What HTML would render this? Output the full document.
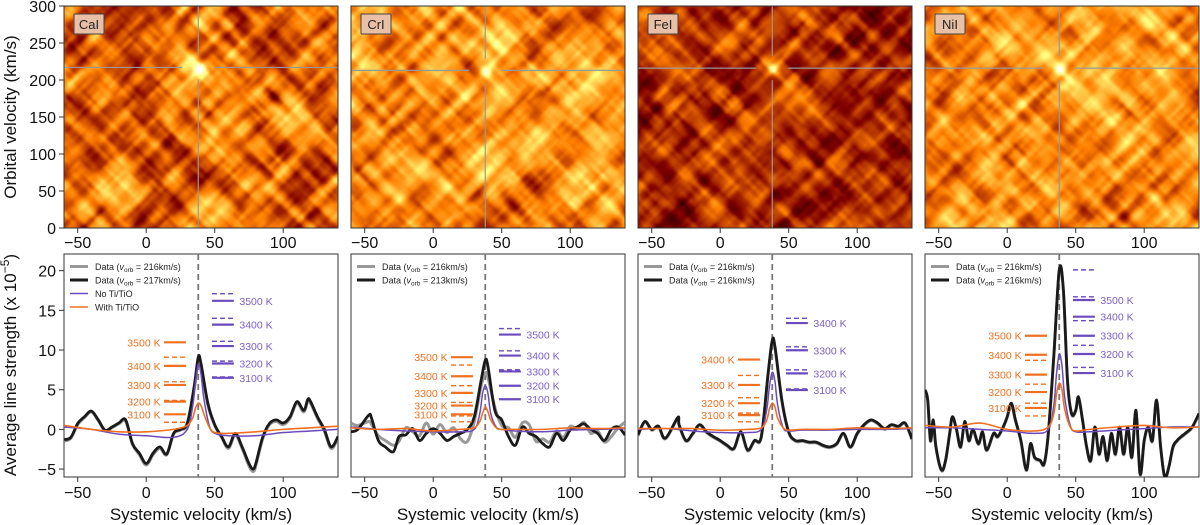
<!DOCTYPE html>
<html><head><meta charset="utf-8"><style>
body{margin:0;background:#fff;width:1200px;height:525px;overflow:hidden;position:relative;font-family:"Liberation Sans",sans-serif}
canvas{position:absolute;image-rendering:auto}
svg{position:absolute;left:0;top:0}
</style></head><body>
<canvas id="h0"></canvas>
<canvas id="h1"></canvas>
<canvas id="h2"></canvas>
<canvas id="h3"></canvas>
<svg id="fig" width="1200" height="525"></svg>
<script>
// ---- data ----
const species = ["CaI","CrI","FeI","NiI"];
const legendBlack = ["217","213","216","216"];
const xTicks = [-50,0,50,100];
const yTicksTop = [0,50,100,150,200,250,300];
const yTicksBot = [-5,0,5,10,15,20];
const peakV = 38, peakOrb = [217,213,216,216];

const p1x = [-60,-55,-50,-45,-40,-35,-30,-25,-20,-15,-10,-5,0,5,10,15,20,25,30,35,38,40,45,50,55,60,65,70,75,78,80,85,90,95,100,105,110,115,118,120,125,130,135,140];
const p1black = [-1.3,-1.0,0.75,1.6,2.3,1.2,-0.1,0.3,0.8,1.2,-1.8,-3.0,-4.3,-3.0,-2.2,-3.1,-0.5,0,0.8,5.4,9.1,8.3,3.3,0.6,-0.9,-2.2,-0.5,-2.2,-4.3,-5,-4.3,-1,0.75,1.2,0.8,1.6,3.5,2.4,3.8,3.5,1.6,0,-2.2,-0.9];
const p1grey = [-1.5,-1.1,0.6,1.5,2.2,1.1,-0.2,0.2,0.7,1.0,-1.9,-3.2,-4.5,-3.2,-2.4,-3.2,-0.6,-0.1,0.6,5.0,8.7,8.0,3.1,0.5,-1.0,-2.4,-0.7,-2.4,-4.6,-5.3,-4.6,-1.2,0.6,1.0,0.6,1.4,3.3,2.2,3.6,3.3,1.4,-0.2,-2.4,-1.1];
const p2x = [-60,-55,-47,-45,-40,-35,-29,-25,-20,-15,-10,-5,0,5,10,15,20,25,30,35,38,40,45,50,55,60,65,70,75,80,85,90,95,100,105,110,115,120,125,130,135,140];
const p2black = [-0.3,0,1.8,1.4,-1.4,-2.2,-2.8,-0.9,-0.7,0.1,-1.4,-0.5,0.1,-0.5,-1.4,-0.9,-0.5,0,1.6,6.2,8.7,7.9,2.4,1.2,-0.9,-2,0.3,-0.5,-0.9,-1.8,-2.2,-0.5,-1.4,-0.1,0.3,0.7,0,-0.5,-1.4,0,0.3,-0.7];
const p2grey = [0.8,0.5,1.0,0.6,-0.8,-1.4,-2.0,-1.5,0.2,-0.3,-0.8,0.8,-0.6,0.6,-0.4,0.2,-1.2,-1.5,1.0,5.5,7.1,6.5,2.8,0.5,0.2,-1.0,0.8,0.6,-1.5,-1.2,-1.6,-0.2,-1.0,0.4,0.0,0.9,-0.5,-0.2,-1.6,-0.9,0.2,0.9];
const p3x = [-60,-55,-50,-45,-40,-31,-30,-25,-20,-15,-10,-5,0,5,10,15,20,25,30,35,38,40,45,50,55,60,65,70,75,80,85,90,95,100,105,110,115,120,125,130,135,140];
const p3black = [-0.7,1,0,0.4,-1.1,1.5,0.6,-1.4,-0.5,0.6,-0.3,-0.9,-1.4,-2,-2.4,-0.3,-2.6,-1.4,-0.9,7.1,11.2,10.4,3.7,-0.3,-1.4,-1.4,-1.6,-1.6,-2,-2.2,-1.8,-0.5,-2.2,-0.5,0.6,1.2,0.8,0.1,0.6,0.4,0.8,-1.2];
const p3grey = p3black.map(v=>v-0.1);
const p4x = [-60,-58,-56,-54,-52,-48,-45,-42,-40,-37,-34,-31,-28,-25,-21,-18,-15,-10,-7,-3,0,3,6,10,14,17,20,24,27,30,34,38,41,44,47,50,52,55,58,61,64,67,70,73,76,79,82,85,88,91,94,97,100,103,106,109,112,115,118,121,124,127,130,135,140];
const p4black = [5,3.7,-1.4,1.2,-2.2,-5.1,-3.9,-0.5,1.6,0,-2.2,1,-1.4,0,-1.8,-0.3,-2.6,-0.5,-0.9,0.3,1.6,3.3,1.2,-1.4,-5.1,-1.8,-3.5,-3.9,-4.3,-0.5,9.2,20.1,17.6,6.2,2,2.4,4.1,1.2,-2.2,-3.9,0.3,-3.1,-0.9,-3.9,-0.5,-3.1,0.3,-3.1,0.3,-3.5,2.4,-5.6,-1.4,0.3,-1.4,3.7,-2.2,-6,-4.7,-2.2,-1.4,-0.9,-0.5,0.3,2];
const p4grey = p4black.map(v=>v-0.1);
const mx = [-60,-40,-20,0,20,30,34,36,38,40,42,46,50,60,80,100,120,140];
const purple = [
 [0.3,0,-0.6,-0.8,-1,0,3,6,8.2,7,4,0.5,-0.5,-0.8,-0.8,-0.4,-0.2,0],
 [0.3,0,-0.2,-0.3,-0.3,0,2,4.5,5.5,4.5,2,0.3,0,-0.2,-0.3,-0.1,0,0.1],
 [0,0.1,-0.2,-0.4,-0.4,0,2.5,5.5,7.2,6,3,0.2,-0.2,-0.1,-0.1,0,0,0.1],
 [0.2,0.2,0,-0.2,-0.5,0,3,7,9.5,8,4,0.5,-0.3,-0.3,-0.1,0.1,0.3,0.3]];
const orange = [
 [0.5,0,-0.3,-0.3,0,0.5,1.5,2.7,3.3,3,2,0.3,-0.4,-0.5,-0.3,0,0.2,0.4],
 [0.2,0,0.1,-0.2,0,0.2,1,2,2.8,2.2,1.2,0.2,0,0,0,0.2,0.1,0.2],
 [0.1,0.1,0.1,-0.1,0,0.2,1.2,2.6,3.3,2.8,1.4,0.2,-0.1,0,0,0.2,0.1,0.2],
 [0.5,0.3,0.8,0,-0.2,0.3,2,4.5,5.8,5,2.5,0.3,-0.2,0,0.3,0.5,0.2,0.3]];
const orangeTemps = [["3500 K","3400 K","3300 K","3200 K","3100 K"],["3500 K","3400 K","3300 K","3200 K","3100 K"],["3400 K","3300 K","3200 K","3100 K"],["3500 K","3400 K","3300 K","3200 K","3100 K"]];
const orangeSolid = [[10.97,8.0,5.6,3.5,1.9],[9.1,6.7,4.6,3.0,1.9],[8.8,5.6,3.3,1.8],[11.8,9.4,6.9,4.7,2.7]];
const orangeDash = [[9.1,6.0,3.65,0.9],[8.1,5.5,3.4,1.7,0.95],[6.8,4.0,2.05,0.95],[11.8,8.7,5.7,3.3,1.7]];
const purpleTemps = [["3500 K","3400 K","3300 K","3200 K","3100 K"],["3500 K","3400 K","3300 K","3200 K","3100 K"],["3400 K","3300 K","3200 K","3100 K"],["3500 K","3400 K","3300 K","3200 K","3100 K"]];
const purpleSolid = [[16.2,13.2,10.5,8.3,6.5],[11.95,9.3,7.3,5.5,3.8],[13.4,9.97,7.06,4.96],[16.3,14.2,11.8,9.5,7.1]];
const purpleDash = [[17.1,14.0,11.1,8.6,6.6],[12.7,9.9,7.5,5.5,3.8],[14.0,10.4,7.5,5.1],[20.1,16.7,13.7,10.6,7.8]];
const dataX = [p1x,p2x,p3x,p4x], dataBlack=[p1black,p2black,p3black,p4black], dataGrey=[p1grey,p2grey,p3grey,p4grey];

// ---- layout ----
const L=[64,351,638,925], W=274, TT=6, TB=228, BT=254, BB=477;
const OR="#f07020", PU="#6a4bbd";
const NS="http://www.w3.org/2000/svg", svg=document.getElementById('fig');
function el(t,a,p){const e=document.createElementNS(NS,t);for(const k in a)e.setAttribute(k,a[k]);(p||svg).appendChild(e);return e;}
function txt(s,a,p){const e=el('text',a,p);e.textContent=s;return e;}
function smooth(pts){let d=`M${pts[0][0]},${pts[0][1]}`;for(let i=0;i<pts.length-1;i++){const p0=pts[Math.max(0,i-1)],p1=pts[i],p2=pts[i+1],p3=pts[Math.min(pts.length-1,i+2)];d+=` C${p1[0]+(p2[0]-p0[0])/6},${p1[1]+(p2[1]-p0[1])/6} ${p2[0]-(p3[0]-p1[0])/6},${p2[1]-(p3[1]-p1[1])/6} ${p2[0]},${p2[1]}`;}return d;}

// heatmap texture (deterministic)
function rng(s){return function(){s=(s*1664525+1013904223)>>>0;return s/4294967296;}}
function drawHeat(i){
  const c=document.getElementById('h'+i);c.width=137;c.height=111;
  c.style.left=L[i]+'px';c.style.top=TT+'px';c.style.width=W+'px';c.style.height=(TB-TT)+'px';
  const ctx=c.getContext('2d'),img=ctx.createImageData(137,111),R=rng(7+i*101);
  const N=64,gA=[],gB=[];for(let k=0;k<N*N;k++){gA.push(R());gB.push(R());}
  function vn(g,u,v){u=((u%N)+N)%N;v=((v%N)+N)%N;const i0=Math.floor(u),j0=Math.floor(v),fu=u-i0,fv=v-j0,i1=(i0+1)%N,j1=(j0+1)%N;
    const su=fu*fu*(3-2*fu),sv=fv*fv*(3-2*fv);const a=g[j0*N+i0],b=g[j0*N+i1],c2=g[j1*N+i0],d=g[j1*N+i1];return a+(b-a)*su+(c2-a)*sv+(a-b-c2+d)*su*sv;}
  const px=(peakV+60)/200*137, py=(300-peakOrb[i])/300*111;
  const base=[0.48,0.52,0.34,0.52][i], amp=[0.42,0.36,0.34,0.36][i];
  for(let y=0;y<111;y++)for(let x=0;x<137;x++){
    const u=(x+y)/6, v=(x-y)/6;
    let f=vn(gA,u,v/5)+vn(gB,v+13,u/5)+0.45*vn(gA,u*2.2+7,v/2.5)+0.45*vn(gB,v*2.2+3,u/2.5);
    f=(f-1.45)/1.45;
    let t=base+amp*f;
    const dx=x-px,dy=y-py,r2=dx*dx+dy*dy;
    t+=0.3*Math.exp(-r2/8);
    const du=(x-px)+(y-py),dv=(x-px)-(y-py);
    t+=0.12*Math.exp(-du*du/10)*Math.exp(-dv*dv/1500)+0.12*Math.exp(-dv*dv/10)*Math.exp(-du*du/1500);
    t=Math.max(0,Math.min(1,t));
    const k=(y*137+x)*4;
    img.data[k]=255*Math.min(1,2*t);img.data[k+1]=255*Math.max(0,Math.min(1,2*t-0.5));img.data[k+2]=255*Math.max(0,Math.min(1,2*t-1));img.data[k+3]=255;
  }
  ctx.putImageData(img,0,0);
}

for(let i=0;i<4;i++){
  drawHeat(i);
  const x0=L[i];
  const X=v=>x0+(v+60)/200*W;
  const YT=v=>TB-v/300*(TB-TT);
  const YB=v=>BB-(v+6)/28.1*(BB-BT);
  const g=el('g',{});
  // crosshair
  const cx=X(peakV), cy=YT(peakOrb[i]);
  const ch=el('g',{stroke:'#999','stroke-width':1.2},g);
  
  el('line',{x1:cx,y1:TT,x2:cx,y2:cy-12},ch);el('line',{x1:cx,y1:cy+12,x2:cx,y2:TB},ch);
  el('line',{x1:x0,y1:cy,x2:cx-16,y2:cy},ch);el('line',{x1:cx+16,y1:cy,x2:x0+W,y2:cy},ch);
  el('rect',{x:x0,y:TT,width:W,height:TB-TT,fill:'none',stroke:'#333','stroke-width':1},g);
  const lb=el('g',{},g);
  el('rect',{x:x0+10,y:TT+8,width:30,height:20,fill:'#e8c0a8',stroke:'#444','stroke-width':1,rx:1},lb);
  txt(species[i],{x:x0+25,y:TT+23,'font-size':13,'text-anchor':'middle',fill:'#222'},lb);
  // top ticks
  xTicks.forEach(t=>{el('line',{x1:X(t),y1:TB,x2:X(t),y2:TB+5,stroke:'#333'},g);
    txt(t<0?'\u2212'+(-t):t,{x:X(t),y:TB+20,'font-size':16,'text-anchor':'middle',fill:'#111'},g);});
  if(i==0) yTicksTop.forEach(t=>{el('line',{x1:x0-5,y1:YT(t),x2:x0,y2:YT(t),stroke:'#333'},g);
    txt(t,{x:x0-8,y:YT(t)+6,'font-size':16,'text-anchor':'end',fill:'#111'},g);});
  // bottom panel
  const bp=el('g',{},g);
  el('rect',{x:x0,y:BT,width:W,height:BB-BT,fill:'#fff',stroke:'#333','stroke-width':1},bp);
  el('clipPath',{id:'cp'+i},bp).appendChild(el('rect',{x:x0,y:BT,width:W,height:BB-BT},bp));
  const cl=el('g',{'clip-path':`url(#cp${i})`},bp);
  el('line',{x1:X(peakV),y1:BT,x2:X(peakV),y2:BB,stroke:'#777','stroke-width':1.8,'stroke-dasharray':'6,4'},cl);
  const gp=el('path',{d:smooth(dataX[i].map((v,k)=>[X(v),YB(dataGrey[i][k])])),fill:'none',stroke:'#999','stroke-width':3},cl);
  
  const bl=el('path',{d:smooth(dataX[i].map((v,k)=>[X(v),YB(dataBlack[i][k])])),fill:'none',stroke:'#1a1a1a','stroke-width':2.8},cl);
  
  const pl=el('path',{d:smooth(mx.map((v,k)=>[X(v),YB(purple[i][k])])),fill:'none',stroke:PU,'stroke-width':1.5},cl);
  
  const ol=el('path',{d:smooth(mx.map((v,k)=>[X(v),YB(orange[i][k])])),fill:'none',stroke:OR,'stroke-width':1.6},cl);
  
  // temperature markers
  orangeSolid[i].forEach((v,k)=>{el('line',{x1:X(13),x2:X(29),y1:YB(v),y2:YB(v),stroke:OR,'stroke-width':2.2},bp);
    txt(orangeTemps[i][k],{x:X(10.5),y:YB(v)+4,'font-size':10.5,'text-anchor':'end',fill:OR},bp);});
  orangeDash[i].forEach(v=>el('line',{x1:X(13),x2:X(29),y1:YB(v),y2:YB(v),stroke:OR,'stroke-width':1.4,'stroke-dasharray':'5,3'},bp));
  purpleSolid[i].forEach((v,k)=>{el('line',{x1:X(48),x2:X(64),y1:YB(v),y2:YB(v),stroke:PU,'stroke-width':2.2},bp);
    txt(purpleTemps[i][k],{x:X(68),y:YB(v)+4,'font-size':10.5,fill:'#7b5fc7'},bp);});
  purpleDash[i].forEach(v=>el('line',{x1:X(48),x2:X(64),y1:YB(v),y2:YB(v),stroke:PU,'stroke-width':1.4,'stroke-dasharray':'5,3'},bp));
  // legend
  const lg=el('g',{},bp);
  const rows=[['#999',3,'Data (','216'],['#1a1a1a',3,'Data (',legendBlack[i]]];
  if(i==0){rows.push([PU,1.5,'No Ti/TiO']);rows.push([OR,1.6,'With Ti/TiO']);}
  rows.forEach((r,k)=>{const y=BT+12.5+k*13.5;
    el('line',{x1:x0+6,x2:x0+24,y1:y,y2:y,stroke:r[0],'stroke-width':r[1]},lg);
    const t=el('text',{x:x0+31,y:y+3.5,'font-size':9,fill:'#222'},lg);
    if(r[3]){t.innerHTML=`Data (<tspan font-style="italic">v</tspan><tspan font-size="6.5" dy="2">orb</tspan><tspan dy="-2"> = ${r[3]}km/s)</tspan>`;}
    else t.textContent=r[2];});
  xTicks.forEach(t=>{el('line',{x1:X(t),y1:BB,x2:X(t),y2:BB+5,stroke:'#333'},bp);
    txt(t<0?'\u2212'+(-t):t,{x:X(t),y:BB+21,'font-size':16,'text-anchor':'middle',fill:'#111'},bp);});
  if(i==0) yTicksBot.forEach(t=>{el('line',{x1:x0-5,y1:YB(t),x2:x0,y2:YB(t),stroke:'#333'},bp);
    txt(t<0?'\u2212'+(-t):t,{x:x0-8,y:YB(t)+6,'font-size':16,'text-anchor':'end',fill:'#111'},bp);});
  const xl=txt('Systemic velocity (km/s)',{x:x0+W/2,y:520,'font-size':17,'text-anchor':'middle',fill:'#111'},bp);
  
}
const yl1=txt('Orbital velocity (km/s)',{x:0,y:0,'font-size':17,'text-anchor':'middle',fill:'#111',transform:'translate(16,117) rotate(-90)'});

const yl2=el('text',{x:0,y:0,'font-size':17,'text-anchor':'middle',fill:'#111',transform:'translate(16,365) rotate(-90)'});
yl2.innerHTML='Average line strength (x 10<tspan font-size="12" dy="-7">\u22125</tspan><tspan dy="7">)</tspan>';

</script>
</body></html>
